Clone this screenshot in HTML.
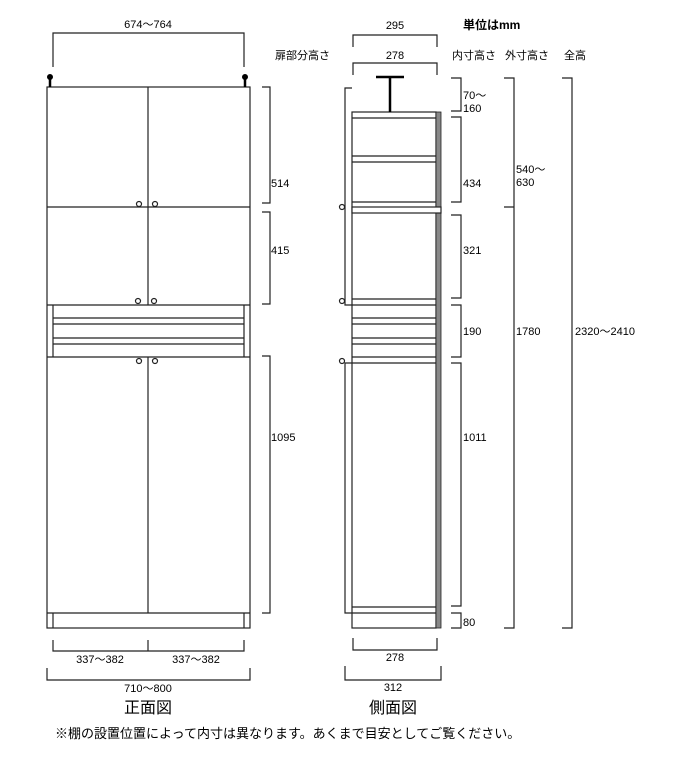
<!DOCTYPE html>
<html><head><meta charset="utf-8"><style>
body{margin:0;background:#fff;}
svg text{font-family:"Liberation Sans","Noto Sans CJK JP",sans-serif;font-size:11px;fill:#000;}
</style></head><body>
<svg width="700" height="761" xmlns="http://www.w3.org/2000/svg">
<g fill="none" stroke="#222" stroke-width="1.2">
<path d="M53 67V33H244V67"/>
<rect x="47" y="87" width="203" height="541"/>
<line x1="148" y1="87" x2="148" y2="305"/>
<line x1="47" y1="207" x2="250" y2="207"/>
<line x1="47" y1="305" x2="250" y2="305"/>
<line x1="53" y1="305" x2="53" y2="357"/>
<line x1="244" y1="305" x2="244" y2="357"/>
<line x1="53" y1="318" x2="244" y2="318"/><line x1="53" y1="324" x2="244" y2="324"/>
<line x1="53" y1="338" x2="244" y2="338"/><line x1="53" y1="344" x2="244" y2="344"/>
<line x1="47" y1="357" x2="250" y2="357"/>
<line x1="148" y1="357" x2="148" y2="613"/>
<line x1="47" y1="613" x2="250" y2="613"/>
<line x1="53" y1="613" x2="53" y2="628"/><line x1="244" y1="613" x2="244" y2="628"/>
<circle cx="139" cy="204" r="2.5"/><circle cx="155" cy="204" r="2.5"/>
<circle cx="138" cy="301" r="2.5"/><circle cx="154" cy="301" r="2.5"/>
<circle cx="139" cy="361" r="2.5"/><circle cx="155" cy="361" r="2.5"/>
<path d="M262 87H270V203H262"/>
<path d="M262 212H270V304H262"/>
<path d="M262 356H270V613H262"/>
<path d="M53 640V651H244V640M148 640V651"/>
<path d="M47 668V680H250V668"/>
<path d="M353 47V35H437V47"/>
<path d="M353 75V63H437V75"/>
<path d="M352 88H345V305H352"/>
<path d="M352 363H345V613H352"/>
<circle cx="342" cy="207" r="2.5"/><circle cx="342" cy="301" r="2.5"/><circle cx="342" cy="361" r="2.5"/>
<rect x="352" y="112" width="84" height="516"/>
<line x1="352" y1="118" x2="436" y2="118"/>
<line x1="352" y1="156" x2="436" y2="156"/><line x1="352" y1="162" x2="436" y2="162"/>
<line x1="352" y1="202" x2="436" y2="202"/>
<line x1="352" y1="299" x2="436" y2="299"/><line x1="352" y1="305" x2="436" y2="305"/>
<line x1="352" y1="318" x2="436" y2="318"/><line x1="352" y1="324" x2="436" y2="324"/>
<line x1="352" y1="338" x2="436" y2="338"/><line x1="352" y1="344" x2="436" y2="344"/>
<line x1="352" y1="357" x2="436" y2="357"/><line x1="352" y1="363" x2="436" y2="363"/>
<line x1="352" y1="607" x2="436" y2="607"/><line x1="352" y1="613" x2="436" y2="613"/>
<path d="M451 78H461V111H451"/>
<path d="M451 117H461V202H451"/>
<path d="M451 215H461V298H451"/>
<path d="M451 305H461V357H451"/>
<path d="M451 363H461V606H451"/>
<path d="M451 613H461V628H451"/>
<path d="M504 78H514V628H504M504 207H514"/>
<path d="M562 78H572V628H562"/>
<path d="M353 638V650H437V638"/>
<path d="M345 666V680H441V666"/>
</g>
<rect x="436" y="112" width="5" height="516" fill="#888" stroke="#222" stroke-width="0.8"/>
<rect x="352" y="207" width="89" height="6" fill="#fff" stroke="#222" stroke-width="1.2"/>
<g fill="#000" stroke="#000">
<line x1="50" y1="77" x2="50" y2="87" stroke-width="2.5"/><circle cx="50" cy="77" r="2.5"/>
<line x1="245" y1="77" x2="245" y2="87" stroke-width="2.5"/><circle cx="245" cy="77" r="2.5"/>
<line x1="376" y1="77" x2="404" y2="77" stroke-width="2.5"/>
<line x1="390" y1="77" x2="390" y2="112" stroke-width="2.5"/>
</g>
<text x="148" y="28" text-anchor="middle">674～764</text>
<text x="275" y="59">扉部分高さ</text>
<text x="271" y="187">514</text>
<text x="271" y="254">415</text>
<text x="271" y="441">1095</text>
<text x="100" y="663" text-anchor="middle">337～382</text>
<text x="196" y="663" text-anchor="middle">337～382</text>
<text x="148" y="692" text-anchor="middle">710～800</text>
<text x="148" y="713" text-anchor="middle" style="font-size:16px">正面図</text>
<text x="395" y="29" text-anchor="middle">295</text>
<text x="395" y="59" text-anchor="middle">278</text>
<text x="463" y="29" style="font-weight:bold;font-size:12px">単位はmm</text>
<text x="452" y="59">内寸高さ</text>
<text x="505" y="59">外寸高さ</text>
<text x="564" y="59">全高</text>
<text x="463" y="99">70～</text>
<text x="463" y="112">160</text>
<text x="463" y="187">434</text>
<text x="463" y="254">321</text>
<text x="463" y="335">190</text>
<text x="463" y="441">1011</text>
<text x="463" y="626">80</text>
<text x="516" y="173">540～</text>
<text x="516" y="186">630</text>
<text x="516" y="335">1780</text>
<text x="575" y="335">2320～2410</text>
<text x="395" y="661" text-anchor="middle">278</text>
<text x="393" y="691" text-anchor="middle">312</text>
<text x="393" y="713" text-anchor="middle" style="font-size:16px">側面図</text>
<text x="55" y="738" style="font-size:13px">※棚の設置位置によって内寸は異なります。あくまで目安としてご覧ください。</text>
</svg>
</body></html>
